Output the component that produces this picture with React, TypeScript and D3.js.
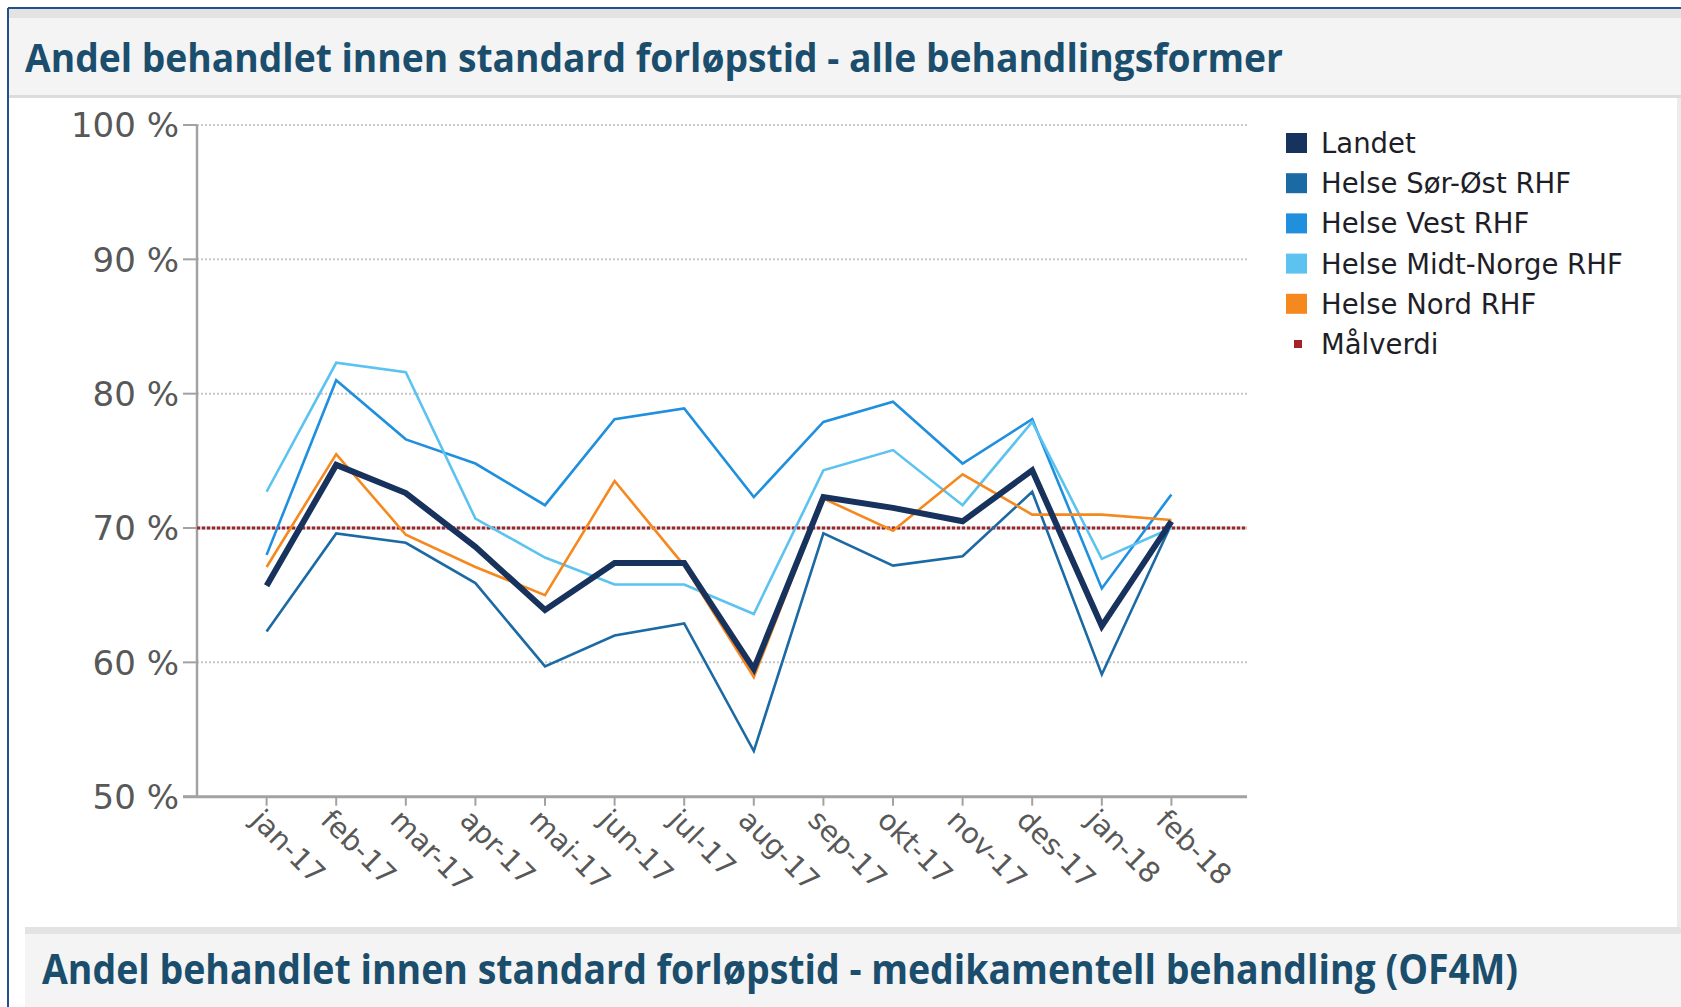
import React from "react";
import * as d3 from "d3";

const months = ["jan-17","feb-17","mar-17","apr-17","mai-17","jun-17","jul-17","aug-17","sep-17","okt-17","nov-17","des-17","jan-18","feb-18"];
const landet = [65.7, 74.7, 72.6, 68.6, 63.9, 67.4, 67.4, 59.5, 72.3, 71.5, 70.5, 74.3, 62.7, 70.5];
const sorOst = [62.3, 69.6, 68.9, 65.9, 59.7, 62.0, 62.9, 53.4, 69.6, 67.2, 67.9, 72.7, 59.1, 70.3];
const vest = [68.0, 81.0, 76.6, 74.8, 71.7, 78.1, 78.9, 72.3, 77.9, 79.4, 74.8, 78.1, 65.5, 72.5];
const midtNorge = [72.7, 82.3, 81.6, 70.7, 67.8, 65.8, 65.8, 63.6, 74.3, 75.8, 71.7, 77.9, 67.7, 70.0];
const nord = [67.1, 75.5, 69.5, 67.1, 65.0, 73.5, 67.2, 58.9, 72.2, 69.8, 74.0, 71.0, 71.0, 70.6];
const malverdi = 70;
const yTicks = [50, 60, 70, 80, 90, 100];
const legendLabels = ["Landet", "Helse Sør-Øst RHF", "Helse Vest RHF", "Helse Midt-Norge RHF", "Helse Nord RHF", "Målverdi"];
const title1 = "Andel behandlet innen standard forløpstid - alle behandlingsformer";
const title2 = "Andel behandlet innen standard forløpstid - medikamentell behandling (OF4M)";

const COLORS = {
  landet: "#17325c",
  sorOst: "#1c6aa3",
  vest: "#1f8fde",
  midt: "#5cc3f0",
  nord: "#f5891f",
  mal: "#a3232b",
};

const W = 1681;
const H = 1007;
const AX_LEFT = 197;
const AX_RIGHT = 1247;
const Y_TOP = 125;
const Y_BOTTOM = 796.7;

export default function App() {
  const x = d3.scalePoint<string>().domain(months).range([AX_LEFT, 1241]).padding(1);
  const y = d3.scaleLinear().domain([50, 100]).range([Y_BOTTOM, Y_TOP]);

  const line = d3
    .line<number>()
    .x((_, i) => x(months[i]) as number)
    .y((d) => y(d));

  const seriesDraw = [
    { key: "sorOst", data: sorOst, color: COLORS.sorOst, w: 2.6 },
    { key: "vest", data: vest, color: COLORS.vest, w: 2.6 },
    { key: "midt", data: midtNorge, color: COLORS.midt, w: 2.6 },
    { key: "nord", data: nord, color: COLORS.nord, w: 2.6 },
    { key: "landet", data: landet, color: COLORS.landet, w: 6 },
  ];

  const legendColors = [COLORS.landet, COLORS.sorOst, COLORS.vest, COLORS.midt, COLORS.nord, COLORS.mal];
  const legendY = d3.scaleLinear().domain([0, 5]).range([143, 344]);

  const axisFont = "'DejaVu Sans', Verdana, sans-serif";
  const titleFont = "'Open Sans', 'Noto Sans', sans-serif";

  return (
    <div style={{ position: "absolute", left: 0, top: 0, width: W, height: H, overflow: "hidden", background: "#fff" }}>
      <svg width={W} height={H} style={{ display: "block" }}>
        <rect x={0} y={0} width={W} height={H} fill="#ffffff" />
        {/* top title band */}
        <rect x={9} y={9} width={W - 9} height={88} fill="#f4f4f4" />
        <rect x={9} y={9} width={W - 9} height={9} fill="#e3e3e3" />
        <rect x={9} y={95} width={W - 9} height={3} fill="#dcdcdc" />
        {/* bottom title band */}
        <rect x={25} y={927} width={W - 25} height={H - 927} fill="#f4f4f4" />
        <rect x={25} y={927} width={W - 25} height={7} fill="#e3e3e3" />
        {/* right edge */}
        <rect x={1677} y={98} width={4} height={829} fill="#ececec" />
        {/* blue frame */}
        <line x1={8} y1={8} x2={W} y2={8} stroke="#244f8c" strokeWidth={2} />
        <line x1={8} y1={8} x2={8} y2={H} stroke="#244f8c" strokeWidth={2} />

        <text
          x={25}
          y={72}
          fontFamily={titleFont}
          fontWeight={700}
          fontSize={40}
          fill="#1b4d6c"
          textLength={1258}
          lengthAdjust="spacingAndGlyphs"
        >
          {title1}
        </text>
        <text
          x={42}
          y={984}
          fontFamily={titleFont}
          fontWeight={700}
          fontSize={41}
          fill="#1b4d6c"
          textLength={1476}
          lengthAdjust="spacingAndGlyphs"
        >
          {title2}
        </text>

        {/* gridlines */}
        {yTicks.filter((t) => t !== 50).map((t) => (
          <line
            key={"g" + t}
            x1={AX_LEFT}
            x2={AX_RIGHT}
            y1={y(t)}
            y2={y(t)}
            stroke="#c8c8c8"
            strokeWidth={2}
            strokeDasharray="2,2"
          />
        ))}

        {/* y axis */}
        <line x1={AX_LEFT} x2={AX_LEFT} y1={Y_TOP} y2={Y_BOTTOM} stroke="#a2a2a2" strokeWidth={2.5} />
        {yTicks.map((t) => (
          <g key={"yt" + t}>
            <line x1={183} x2={AX_LEFT} y1={y(t)} y2={y(t)} stroke="#a2a2a2" strokeWidth={2} />
            <text
              x={179}
              y={y(t)}
              dy="0.36em"
              textAnchor="end"
              fontFamily={axisFont}
              fontSize={34}
              fill="#585858"
            >
              {`${t} %`}
            </text>
          </g>
        ))}

        {/* x axis */}
        <line x1={183} x2={AX_RIGHT} y1={Y_BOTTOM} y2={Y_BOTTOM} stroke="#a2a2a2" strokeWidth={3} />
        {months.map((m) => {
          const px = x(m) as number;
          return (
            <g key={"xt" + m}>
              <line x1={px} x2={px} y1={Y_BOTTOM} y2={Y_BOTTOM + 9} stroke="#a2a2a2" strokeWidth={2} />
              <text
                transform={`translate(${px - 17},${Y_BOTTOM + 25}) rotate(45)`}
                textAnchor="start"
                fontFamily={axisFont}
                fontSize={28.5}
                fill="#585858"
              >
                {m}
              </text>
            </g>
          );
        })}

        {/* target line */}
        <line
          x1={AX_LEFT}
          x2={AX_RIGHT}
          y1={y(malverdi)}
          y2={y(malverdi)}
          stroke="#c4c4c4"
          strokeWidth={3}
        />
        <line
          x1={AX_LEFT}
          x2={AX_RIGHT}
          y1={y(malverdi)}
          y2={y(malverdi)}
          stroke={COLORS.mal}
          strokeWidth={3}
          strokeDasharray="3,2"
        />

        {/* series */}
        {seriesDraw.map((s) => (
          <path
            key={s.key}
            d={line(s.data) || ""}
            fill="none"
            stroke={s.color}
            strokeWidth={s.w}
            strokeLinejoin="miter"
          />
        ))}

        {/* legend */}
        {legendLabels.map((lab, i) => {
          const cy = legendY(i);
          const isMal = i === 5;
          return (
            <g key={"lg" + i}>
              {isMal ? (
                <rect x={1294} y={cy - 4} width={8} height={8} fill={legendColors[i]} />
              ) : (
                <rect x={1286} y={cy - 10} width={21} height={20} fill={legendColors[i]} />
              )}
              <text
                x={1321}
                y={cy}
                dy="0.36em"
                fontFamily={axisFont}
                fontSize={27.5}
                fill="#1e1e28"
              >
                {lab}
              </text>
            </g>
          );
        })}
      </svg>
    </div>
  );
}
